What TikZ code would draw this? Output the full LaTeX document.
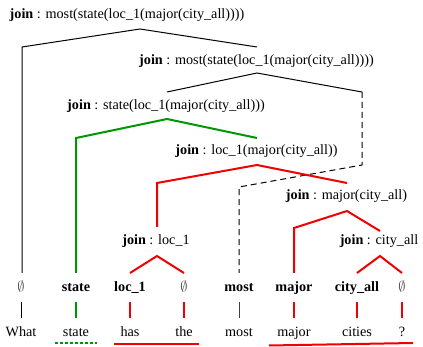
\documentclass[tikz,border=0pt]{standalone}
\usepackage{fontspec}
\setmainfont{Liberation Serif}
\usetikzlibrary{calc}
\definecolor{tgreen}{RGB}{0,150,0}
\definecolor{tred}{RGB}{240,0,0}
\tikzset{
  lbl/.style={anchor=base,inner sep=0pt,font=\fontsize{14.2}{17}\selectfont},
  empt/.style={lbl,text=black!70},
  blk/.style={draw=black,line width=1pt},
  dsh/.style={draw=black,line width=1pt,dash pattern=on 6pt off 4pt},
  grn/.style={draw=tgreen,line width=2pt},
  rd/.style={draw=tred,line width=2pt},
}
\newcommand{\jn}[1]{\textbf{join} : #1}
\begin{document}
\begin{tikzpicture}[x=1pt,y=-1pt]
\useasboundingbox (0,0) rectangle (423,347);
% labels
\node[lbl] (L1) at (127,19) {\jn{most(state(loc\_1(major(city\_all))))}};
\node[lbl] (L2) at (256.5,65) {\jn{most(state(loc\_1(major(city\_all))))}};
\node[lbl] (L3) at (166,110) {\jn{state(loc\_1(major(city\_all)))}};
\node[lbl] (L4) at (256.5,155) {\jn{loc\_1(major(city\_all))}};
\node[lbl] (L5) at (346.5,200) {\jn{major(city\_all)}};
\node[lbl] (L6) at (379,245) {\jn{city\_all}};
\node[lbl] (L7) at (156,245) {\jn{loc\_1}};
% leaf row
\node[empt] (e1) at (21,292) {$\emptyset$};
\node[lbl] (e2) at (76,292) {\textbf{state}};
\node[lbl] (e3) at (130,292) {\textbf{loc\_1}};
\node[empt] (e4) at (184,292) {$\emptyset$};
\node[lbl] (e5) at (239,292) {\textbf{most}};
\node[lbl] (e6) at (294,292) {\textbf{major}};
\node[lbl] (e7) at (357,292) {\textbf{city\_all}};
\node[empt] (e8) at (402,292) {$\emptyset$};
% words
\node[lbl] (w1) at (21,337) {What};
\node[lbl] (w2) at (76,337) {state};
\node[lbl] (w3) at (130,337) {has};
\node[lbl] (w4) at (184,337) {the};
\node[lbl] (w5) at (239,337) {most};
\node[lbl] (w6) at (294,337) {major};
\node[lbl] (w7) at (357,337) {cities};
\node[lbl] (w8) at (402,337) {?};
% apex / corner coordinates
\coordinate (a1) at (140,29);
\coordinate (a2) at (257,73);
\coordinate (a3) at (167,119);
\coordinate (a4) at (257,165);
\coordinate (a5) at (347,211);
\coordinate (a6) at (380,256);
\coordinate (a7) at (157,256);
\coordinate (k1) at (22,47);
\coordinate (t2) at (257,47);
\coordinate (t3) at (167,92);
\coordinate (k2) at (362,92);
\coordinate (k2b) at (362,165);
\coordinate (k2c) at (239,187);
\coordinate (k3) at (76,138);
\coordinate (t4) at (257,138);
\coordinate (k4) at (157,183);
\coordinate (t7) at (157,227);
\coordinate (t5) at (347,183);
\coordinate (k5) at (294,228);
\coordinate (t6) at (380,231);
\foreach \i in {1,...,8}{
  \coordinate (e\i t) at ($(e\i.base)+(0,-19)$);
  \coordinate (e\i b) at ($(e\i.base)+(0,10)$);
  \coordinate (w\i t) at ($(w\i.base)+(0,-19)$);
}
% tree connectors
\draw[blk] (k1 |- e1t) -- (k1) -- (a1) -- (t2);
\draw[blk] (t3) -- (a2) -- (k2);
\draw[dsh] (k2) -- (k2b) -- (k2c) -- (e5t);
\draw[grn] (e2t) -- (k3) -- (a3) -- (t4);
\draw[rd] (t7) -- (k4) -- (a4) -- (t5);
\draw[rd] (e3t) -- (a7) -- (e4t);
\draw[rd] (e6t) -- (k5) -- (a5) -- (t6);
\draw[rd] (e7t) -- (a6) -- (e8t);
% leaf-to-word links
\draw[blk] (e1b) -- (w1t);
\draw[grn] (e2b) -- (w2t);
\draw[rd] (e3b) -- (w3t);
\draw[rd] (e4b) -- (w4t);
\draw[blk,draw=black!75] (e5b) -- (w5t);
\draw[rd] (e6b) -- (w6t);
\draw[rd] (e7b) -- (w7t);
\draw[rd] (e8b) -- (w8t);
% underlines
\coordinate (u1) at (55,343);
\coordinate (u2) at (97,343);
\draw[draw=tgreen,line width=2.6pt,dash pattern=on 2.6pt off 2.4pt] (u1) -- (u2);
\coordinate (u3) at (114,344);
\coordinate (u4) at (199,344);
\draw[rd] (u3) -- (u4);
\coordinate (u5) at (269,345.5);
\coordinate (u6) at (413,343);
\draw[rd] (u5) -- (u6);
\end{tikzpicture}
\end{document}
